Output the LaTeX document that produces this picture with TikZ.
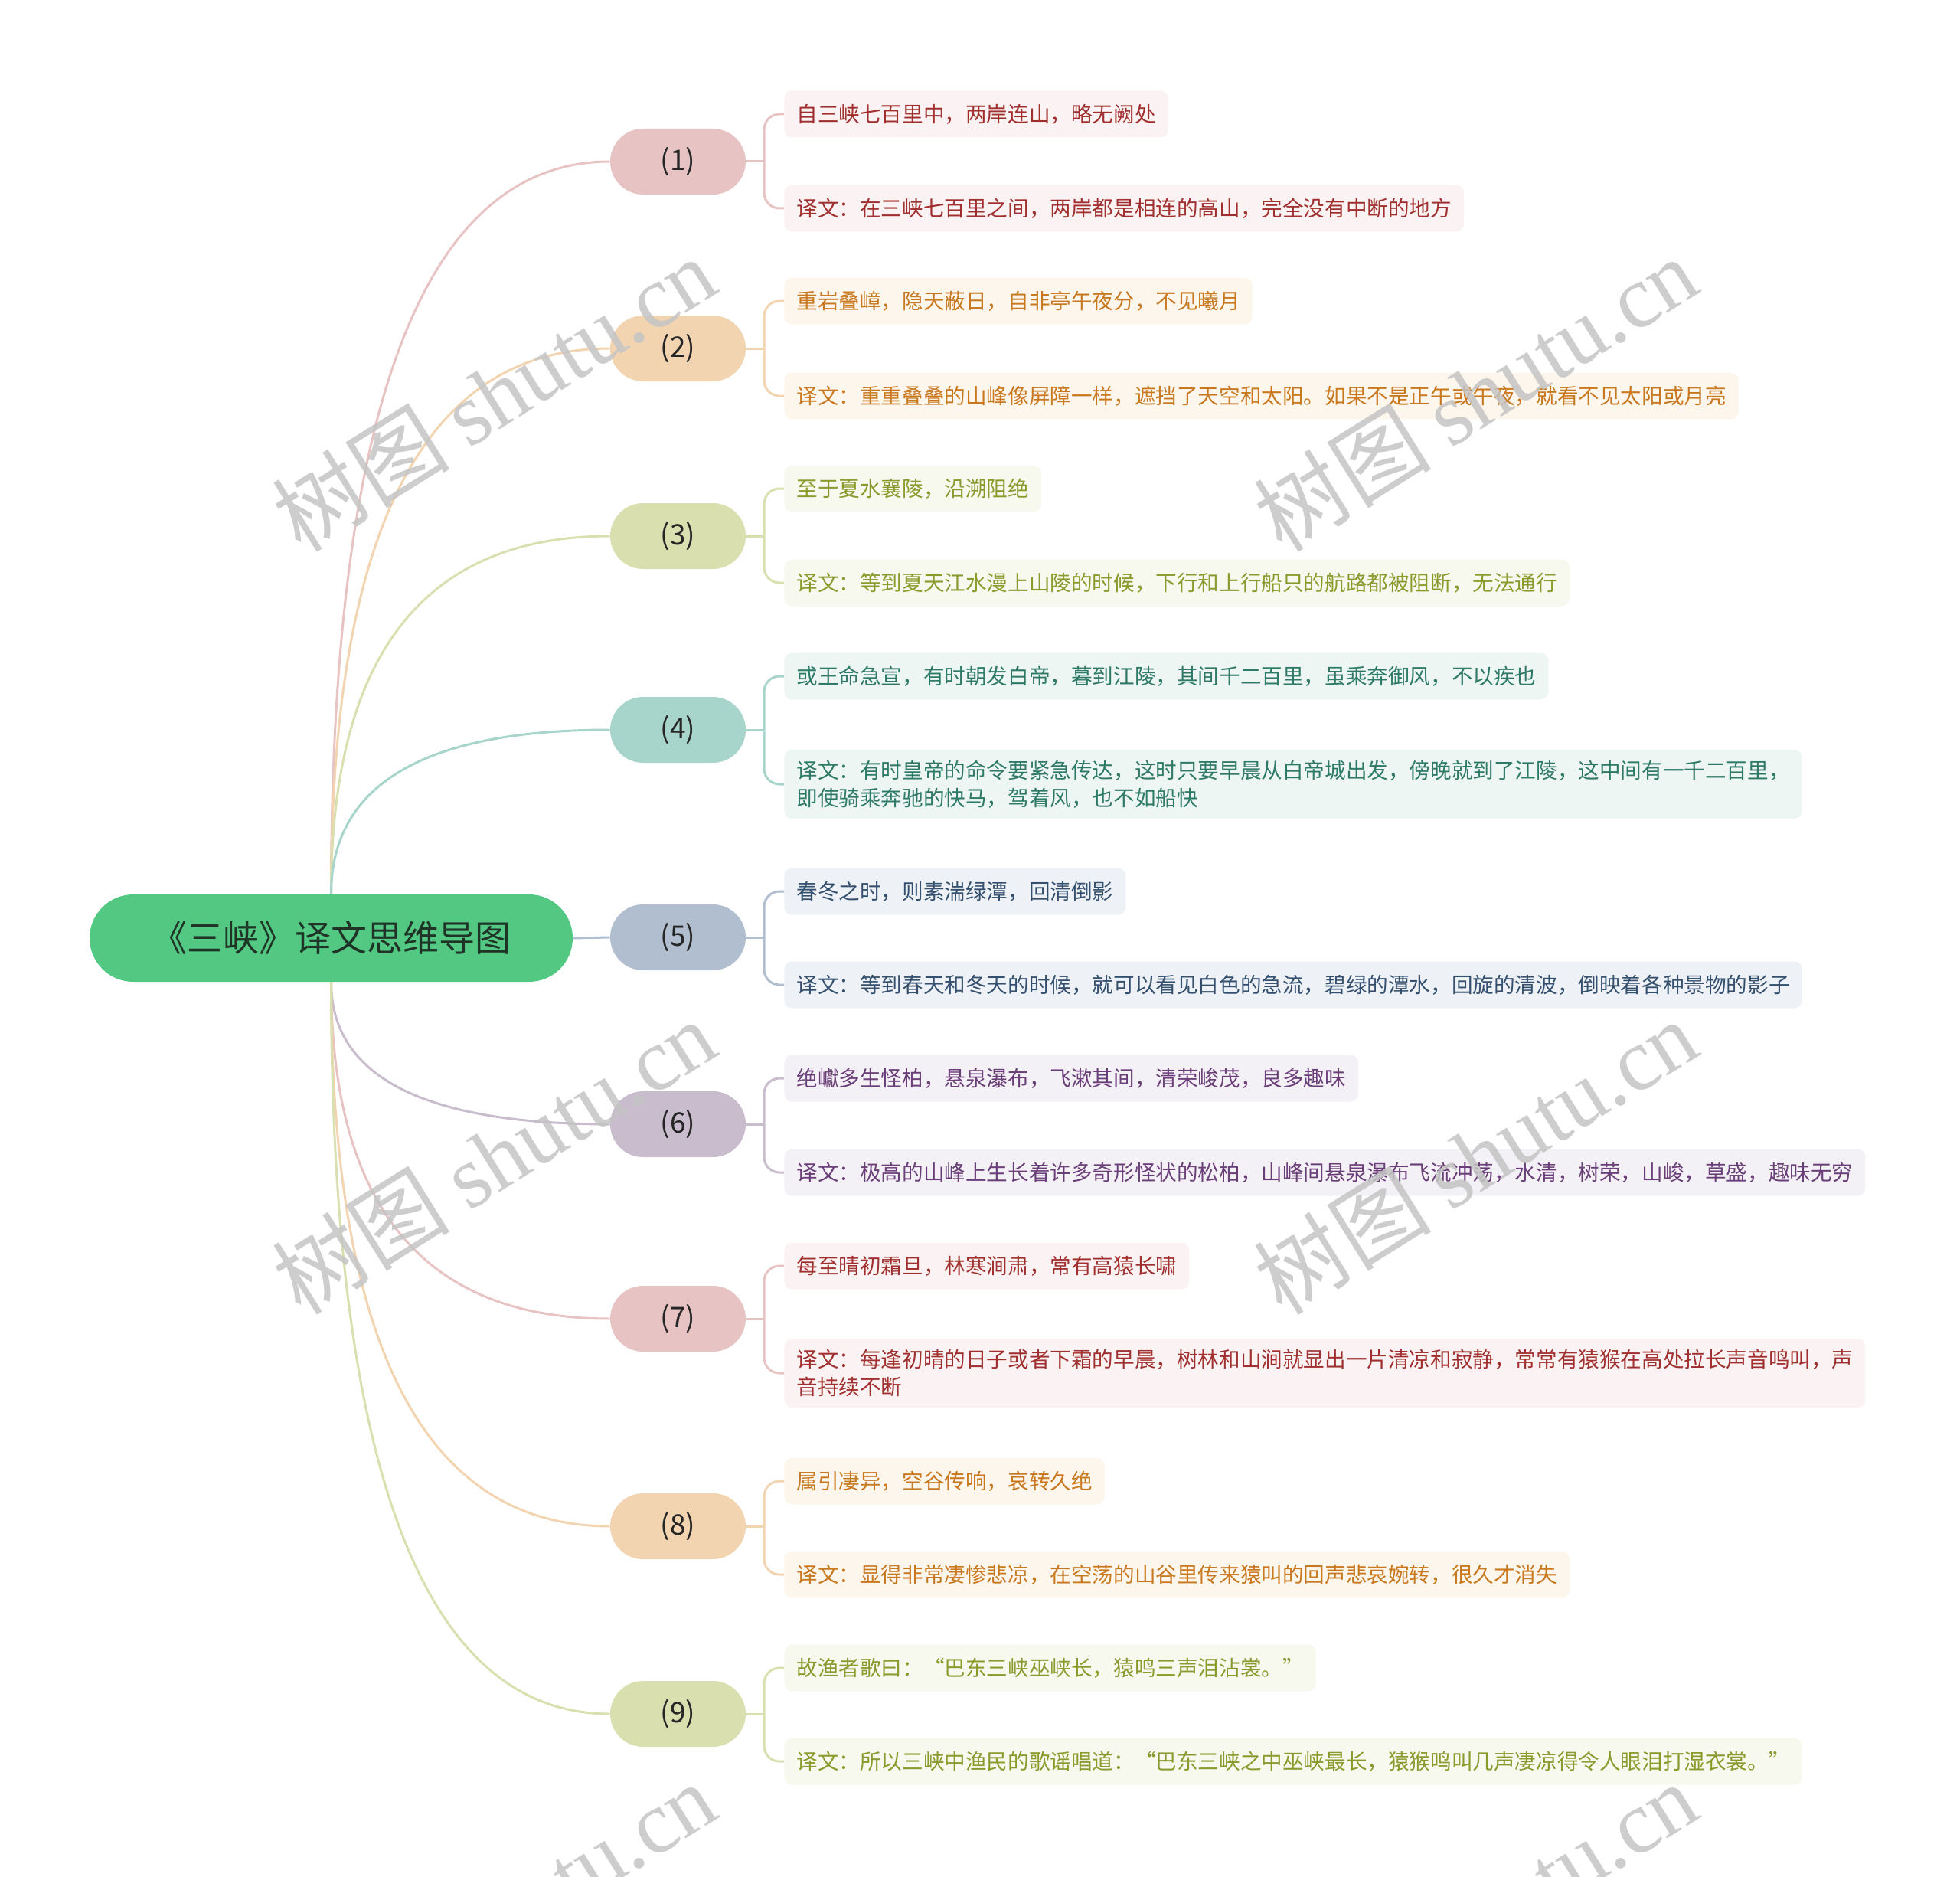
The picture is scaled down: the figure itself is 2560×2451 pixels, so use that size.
\documentclass[tikz,border=0pt]{standalone}
\usepackage{fontspec}
\setmainfont{Noto Sans CJK SC}
\newfontfamily\wmserif{Liberation Serif}
\usetikzlibrary{calc}
\definecolor{rootc}{HTML}{52C882}
\definecolor{roottext}{HTML}{1F3327}
\definecolor{childtext}{HTML}{262626}
\definecolor{cA}{HTML}{E8C3C3}
\definecolor{cB}{HTML}{F2D4B0}
\definecolor{cC}{HTML}{DADFAF}
\definecolor{cD}{HTML}{A8D5CB}
\definecolor{cE}{HTML}{B0BECF}
\definecolor{cF}{HTML}{C8BCCD}
\definecolor{bA}{HTML}{FBF3F3}
\definecolor{bB}{HTML}{FDF6EC}
\definecolor{bC}{HTML}{F7F8EE}
\definecolor{bD}{HTML}{EEF6F4}
\definecolor{bE}{HTML}{EEF2F6}
\definecolor{bF}{HTML}{F4F1F6}
\definecolor{tA}{HTML}{A0302F}
\definecolor{tB}{HTML}{C8781E}
\definecolor{tC}{HTML}{8A9A2C}
\definecolor{tD}{HTML}{2E7A66}
\definecolor{tE}{HTML}{34506E}
\definecolor{tF}{HTML}{6A3E78}
\definecolor{wm}{HTML}{C4C4C4}
\begin{document}
\begin{tikzpicture}[x=0.5pt,y=-0.5pt,
  rootnode/.style={fill=rootc, text=roottext, rounded corners=28.5pt, minimum width=315.5pt, minimum height=57pt, inner sep=0pt, font=\fontsize{23.5pt}{28pt}\selectfont},
  childnode/.style={fill=#1, text=childtext, rounded corners=21.5pt, minimum width=88.5pt, minimum height=43pt, inner sep=0pt, font=\fontsize{18.5pt}{20pt}\selectfont},
  leafnode/.style 2 args={fill=#1, text=#2, anchor=west, rounded corners=5pt, align=left, inner xsep=8pt, inner ysep=7pt, minimum height=30.5pt, font=\fontsize{13.8pt}{18pt}\selectfont},
  link/.style={draw=#1, line width=1.5pt},
  wmark/.style={text=wm, opacity=0.85, rotate=32, font=\fontsize{58pt}{62pt}\selectfont}
]
\useasboundingbox (0,0) rectangle (2560,2451);

% root
\node[rootnode] (root) at (432.5,1225) {《三峡》译文思维导图};

% children
\node[childnode=cA] (c1) at (885.5,211) {(1)};
\node[childnode=cB] (c2) at (885.5,455) {(2)};
\node[childnode=cC] (c3) at (885.5,700) {(3)};
\node[childnode=cD] (c4) at (885.5,953) {(4)};
\node[childnode=cE] (c5) at (885.5,1224) {(5)};
\node[childnode=cF] (c6) at (885.5,1468) {(6)};
\node[childnode=cA] (c7) at (885.5,1722) {(7)};
\node[childnode=cB] (c8) at (885.5,1993) {(8)};
\node[childnode=cC] (c9) at (885.5,2238) {(9)};

% leaves
\node[leafnode={bA}{tA}] (l1a) at (1024,149) {自三峡七百里中，两岸连山，略无阙处};
\node[leafnode={bA}{tA}] (l1b) at (1024,272) {译文：在三峡七百里之间，两岸都是相连的高山，完全没有中断的地方};
\node[leafnode={bB}{tB}] (l2a) at (1024,393) {重岩叠嶂，隐天蔽日，自非亭午夜分，不见曦月};
\node[leafnode={bB}{tB}] (l2b) at (1024,517) {译文：重重叠叠的山峰像屏障一样，遮挡了天空和太阳。如果不是正午或午夜，就看不见太阳或月亮};
\node[leafnode={bC}{tC}] (l3a) at (1024,638) {至于夏水襄陵，沿溯阻绝};
\node[leafnode={bC}{tC}] (l3b) at (1024,761) {译文：等到夏天江水漫上山陵的时候，下行和上行船只的航路都被阻断，无法通行};
\node[leafnode={bD}{tD}] (l4a) at (1024,883) {或王命急宣，有时朝发白帝，暮到江陵，其间千二百里，虽乘奔御风，不以疾也};
\node[leafnode={bD}{tD}] (l4b) at (1024,1024) {译文：有时皇帝的命令要紧急传达，这时只要早晨从白帝城出发，傍晚就到了江陵，这中间有一千二百里，\\即使骑乘奔驰的快马，驾着风，也不如船快};
\node[leafnode={bE}{tE}] (l5a) at (1024,1164) {春冬之时，则素湍绿潭，回清倒影};
\node[leafnode={bE}{tE}] (l5b) at (1024,1286) {译文：等到春天和冬天的时候，就可以看见白色的急流，碧绿的潭水，回旋的清波，倒映着各种景物的影子};
\node[leafnode={bF}{tF}] (l6a) at (1024,1408) {绝巘多生怪柏，悬泉瀑布，飞漱其间，清荣峻茂，良多趣味};
\node[leafnode={bF}{tF}] (l6b) at (1024,1531) {译文：极高的山峰上生长着许多奇形怪状的松柏，山峰间悬泉瀑布飞流冲荡，水清，树荣，山峻，草盛，趣味无穷};
\node[leafnode={bA}{tA}] (l7a) at (1024,1653) {每至晴初霜旦，林寒涧肃，常有高猿长啸};
\node[leafnode={bA}{tA}] (l7b) at (1024,1793) {译文：每逢初晴的日子或者下霜的早晨，树林和山涧就显出一片清凉和寂静，常常有猿猴在高处拉长声音鸣叫，声\\音持续不断};
\node[leafnode={bB}{tB}] (l8a) at (1024,1934) {属引凄异，空谷传响，哀转久绝};
\node[leafnode={bB}{tB}] (l8b) at (1024,2056) {译文：显得非常凄惨悲凉，在空荡的山谷里传来猿叫的回声悲哀婉转，很久才消失};
\node[leafnode={bC}{tC}] (l9a) at (1024,2178) {故渔者歌曰：“巴东三峡巫峡长，猿鸣三声泪沾裳。”};
\node[leafnode={bC}{tC}] (l9b) at (1024,2300) {译文：所以三峡中渔民的歌谣唱道：“巴东三峡之中巫峡最长，猿猴鸣叫几声凄凉得令人眼泪打湿衣裳。”};

% main connectors (quadratic-like curves)
\foreach \i/\c in {1/cA,2/cB,3/cC,4/cD}{
  \draw[link=\c] (root.north) .. controls ($(root.north)!0.667!(root.north |- c\i.west)$) and ($(c\i.west)!0.667!(root.north |- c\i.west)$) .. (c\i.west);
}
\draw[link=cE] (root.east) -- (c5.west);
\foreach \i/\c in {6/cF,7/cA,8/cB,9/cC}{
  \draw[link=\c] (root.south) .. controls ($(root.south)!0.667!(root.south |- c\i.west)$) and ($(c\i.west)!0.667!(root.south |- c\i.west)$) .. (c\i.west);
}

% brackets
\foreach \i/\c in {1/cA,2/cB,3/cC,4/cD,5/cE,6/cF,7/cA,8/cB,9/cC}{
  \draw[link=\c] (c\i.east) -- ++(24,0);
  \draw[link=\c, rounded corners=10pt] (l\i a.west) -- ++(-26,0) |- (l\i b.west);
}

% watermarks
\node[wmark] (wm1) at (645,514) {树图 {\wmserif shutu.cn}};
\node[wmark] (wm2) at (1927,514) {树图 {\wmserif shutu.cn}};
\node[wmark] (wm3) at (645,1510) {树图 {\wmserif shutu.cn}};
\node[wmark] (wm4) at (1927,1510) {树图 {\wmserif shutu.cn}};
\node[wmark] (wm5) at (645,2506) {树图 {\wmserif shutu.cn}};
\node[wmark] (wm6) at (1927,2506) {树图 {\wmserif shutu.cn}};
\end{tikzpicture}
\end{document}
